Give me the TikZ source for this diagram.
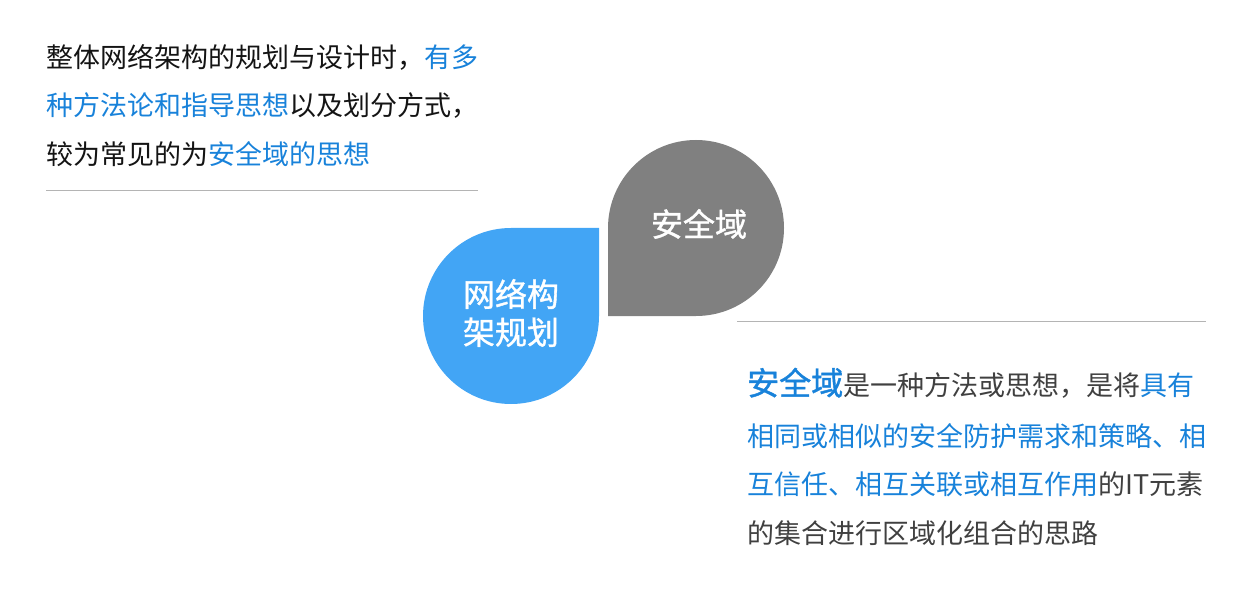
\documentclass[tikz,border=0pt]{standalone}
\usepackage{fontspec}
\setmainfont{Noto Sans CJK SC}
\newfontfamily\heavycjk[FakeBold=1.2]{Noto Sans CJK SC}
\usepackage{tikz}
\usetikzlibrary{positioning}

\definecolor{dropblue}{RGB}{66,165,245}
\definecolor{dropgray}{RGB}{128,128,128}
\definecolor{hiblue}{RGB}{24,130,218}
\definecolor{rulegray}{RGB}{180,180,180}
\definecolor{darktext}{RGB}{20,20,20}
\definecolor{softtext}{RGB}{64,64,64}
\newcommand{\hl}[1]{\textcolor{hiblue}{#1}}

\begin{document}
\begin{tikzpicture} [x=1pt, y=1pt, line/.style = {draw=rulegray, line width=1pt},
   txt/.style = {anchor=base west, inner sep=0pt, font=\fontsize{27}{27}\selectfont},
   drop/.style = {text=white, inner sep=0pt, font=\heavycjk\fontsize{32}{38}\selectfont, align=center}]
   \useasboundingbox (0,0) rectangle (1250,590);

   \fill[dropblue] (599,362) -- (599,274) arc[start angle=0, end angle=-270, radius=88] -- cycle;
   \fill[dropgray] (608,274) -- (696,274) arc[start angle=-90, end angle=180, radius=88] -- cycle;
   \node (plan)[drop] at (511,277) {网络构\\架规划};
   \node (zone)[drop] at (699,366) {安全域};

   \node (la)[txt, text=darktext] at (46,522) {整体网络架构的规划与设计时，\hl{有多}};
   \node (lb)[txt, text=darktext] at (46,474) {\hl{种方法论和指导思想}以及划分方式，};
   \node (lc)[txt, text=darktext] at (46,425) {较为常见的为\hl{安全域的思想}};
   \coordinate (ls) at (46,399);
   \coordinate (le) at (478,399);
   \path[line] (ls) -- (le);

   \coordinate (rs) at (737,269);
   \coordinate (re) at (1206,269);
   \path[line] (rs) -- (re);
   \node (ra)[txt, text=softtext] at (747,195) {\hl{\heavycjk\fontsize{32}{32}\selectfont 安全域}是一种方法或思想，是将\hl{具有}};
   \node (rb)[txt, text=hiblue] at (747,144) {相同或相似的安全防护需求和策略、相};
   \node (rc)[txt, text=softtext] at (747,96) {\hl{互信任、相互关联或相互作用}的IT元素};
   \node (rd)[txt, text=softtext] at (747,47) {的集合进行区域化组合的思路};
\end{tikzpicture}
\end{document}
